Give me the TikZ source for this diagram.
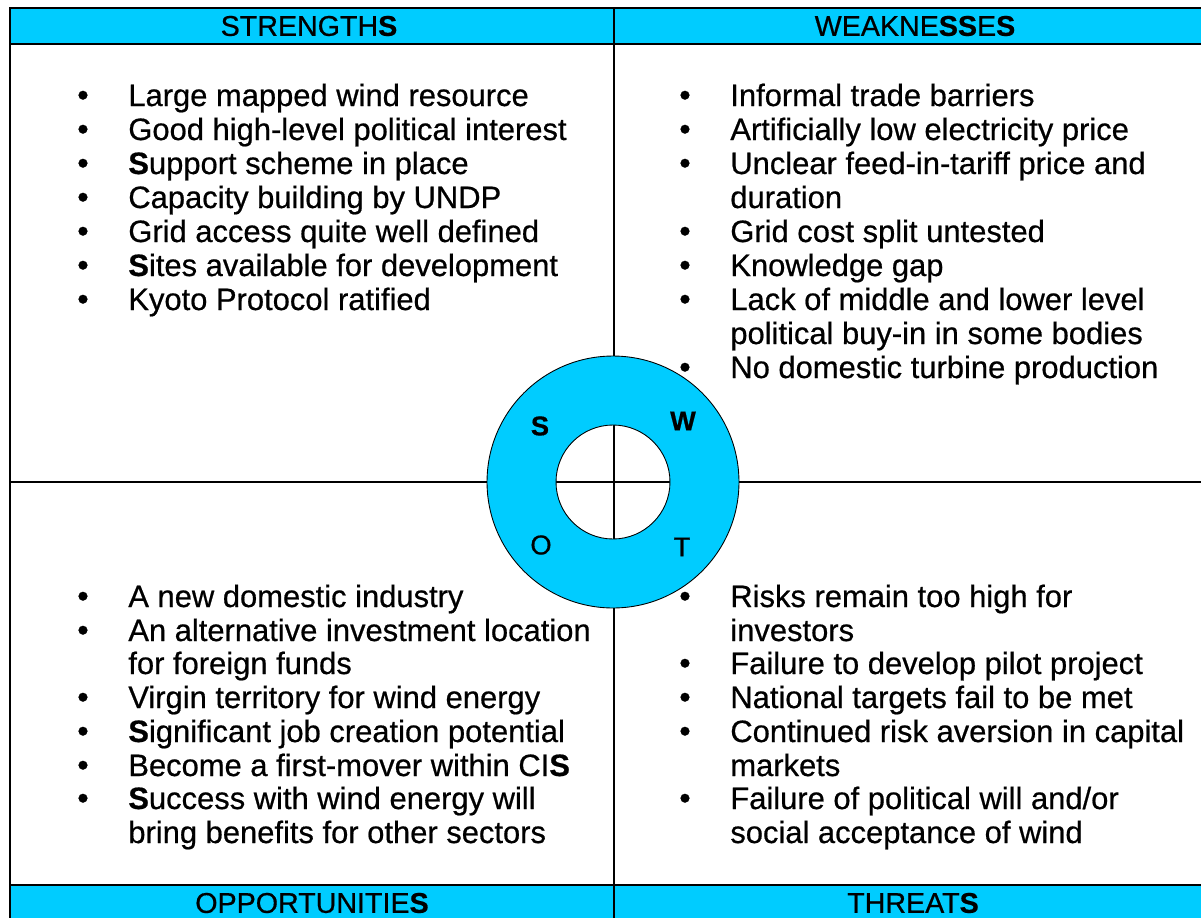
\documentclass[tikz,border=0pt]{standalone}
\usepackage{fontspec}
\setmainfont{Liberation Sans}[FakeBold=0.6]
\definecolor{swotblue}{RGB}{0,204,255}

\begin{document}
\begin{tikzpicture}[x=0.02cm, y=-0.02cm,
    item/.style={anchor=base west, inner sep=0pt, font=\fontsize{17.6}{19}\selectfont},
    bullet/.style={anchor=base, inner sep=0pt, font=\fontsize{18.5}{19}\selectfont},
    head/.style={inner sep=0pt, font=\fontsize{16.3}{18}\selectfont},
    letter/.style={inner sep=0pt, font=\fontsize{15.5}{17}\selectfont},
    rule/.style={line width=0.9pt}]
            \useasboundingbox (0,0) rectangle (1201,917);
            \clip (0,0) rectangle (1201,917);
            % header bands
            \fill[swotblue] (10,8) rectangle (1215,44);
            \fill[swotblue] (10,885) rectangle (1215,930);
            \draw[rule] (10,8) rectangle (1215,930);
            \draw[rule] (10,44) -- (1215,44);
            \draw[rule] (10,885) -- (1215,885);
            \draw[rule] (614,8) -- (614,930);
            \draw[rule] (10,482) -- (1215,482);
            % ring
            \draw[fill=swotblue, even odd rule, line width=0.5pt] (613,482) circle (2.52cm) (613,482) circle (1.14cm);
            \node[letter] (ls) at (540,426) {\textbf{S}};
            \node[letter] (lw) at (683,421) {\textbf{W}};
            \node[letter] (lo) at (541,545) {O};
            \node[letter] (lt) at (682,547) {T};
            % headings
            \node[head] (strengths) at (309,26) {STRENGTH\textbf{S}};
            \node[head] (weaknesses) at (915,26) {WEAKNE\textbf{SS}E\textbf{S}};
            \node[head] (opportunities) at (312,903) {OPPORTUNITIE\textbf{S}};
            \node[head] (threats) at (913,903) {THREAT\textbf{S}};
            % strengths
            \node[bullet] (sb1) at (83,106) {\textbullet};
            \node[item] (s1) at (128,106) {Large mapped wind resource};
            \node[bullet] (sb2) at (83,140) {\textbullet};
            \node[item] (s2) at (128,140) {Good high-level political interest};
            \node[bullet] (sb3) at (83,174) {\textbullet};
            \node[item] (s3) at (128,174) {\textbf{S}upport scheme in place};
            \node[bullet] (sb4) at (83,208) {\textbullet};
            \node[item] (s4) at (128,208) {Capacity building by UNDP};
            \node[bullet] (sb5) at (83,242) {\textbullet};
            \node[item] (s5) at (128,242) {Grid access quite well defined};
            \node[bullet] (sb6) at (83,276) {\textbullet};
            \node[item] (s6) at (128,276) {\textbf{S}ites available for development};
            \node[bullet] (sb7) at (83,310) {\textbullet};
            \node[item] (s7) at (128,310) {Kyoto Protocol ratified};
            % weaknesses
            \node[bullet] (wb1) at (685,106) {\textbullet};
            \node[item] (w1) at (730,106) {Informal trade barriers};
            \node[bullet] (wb2) at (685,140) {\textbullet};
            \node[item] (w2) at (730,140) {Artificially low electricity price};
            \node[bullet] (wb3) at (685,174) {\textbullet};
            \node[item] (w3) at (730,174) {Unclear feed-in-tariff price and};
            \node[item] (w3b) at (730,208) {duration};
            \node[bullet] (wb4) at (685,242) {\textbullet};
            \node[item] (w4) at (730,242) {Grid cost split untested};
            \node[bullet] (wb5) at (685,276) {\textbullet};
            \node[item] (w5) at (730,276) {Knowledge gap};
            \node[bullet] (wb6) at (685,310) {\textbullet};
            \node[item] (w6) at (730,310) {Lack of middle and lower level};
            \node[item] (w6b) at (730,344) {political buy-in in some bodies};
            \node[bullet] (wb7) at (685,378) {\textbullet};
            \node[item] (w7) at (730,378) {No domestic turbine production};
            % opportunities
            \node[bullet] (ob1) at (83,607) {\textbullet};
            \node[item] (o1) at (128,607) {A new domestic industry};
            \node[bullet] (ob2) at (83,641) {\textbullet};
            \node[item] (o2) at (128,641) {An alternative investment location};
            \node[item] (o2b) at (128,674) {for foreign funds};
            \node[bullet] (ob3) at (83,708) {\textbullet};
            \node[item] (o3) at (128,708) {Virgin territory for wind energy};
            \node[bullet] (ob4) at (83,742) {\textbullet};
            \node[item] (o4) at (128,742) {\textbf{S}ignificant job creation potential};
            \node[bullet] (ob5) at (83,776) {\textbullet};
            \node[item] (o5) at (128,776) {Become a first-mover within CI\textbf{S}};
            \node[bullet] (ob6) at (83,809) {\textbullet};
            \node[item] (o6) at (128,809) {\textbf{S}uccess with wind energy will};
            \node[item] (o6b) at (128,843) {bring benefits for other sectors};
            % threats
            \node[bullet] (tb1) at (685,607) {\textbullet};
            \node[item] (t1) at (730,607) {Risks remain too high for};
            \node[item] (t1b) at (730,641) {investors};
            \node[bullet] (tb2) at (685,674) {\textbullet};
            \node[item] (t2) at (730,674) {Failure to develop pilot project};
            \node[bullet] (tb3) at (685,708) {\textbullet};
            \node[item] (t3) at (730,708) {National targets fail to be met};
            \node[bullet] (tb4) at (685,742) {\textbullet};
            \node[item] (t4) at (730,742) {Continued risk aversion in capital};
            \node[item] (t4b) at (730,776) {markets};
            \node[bullet] (tb5) at (685,809) {\textbullet};
            \node[item] (t5) at (730,809) {Failure of political will and/or};
            \node[item] (t5b) at (730,843) {social acceptance of wind};
\end{tikzpicture}
\end{document}
